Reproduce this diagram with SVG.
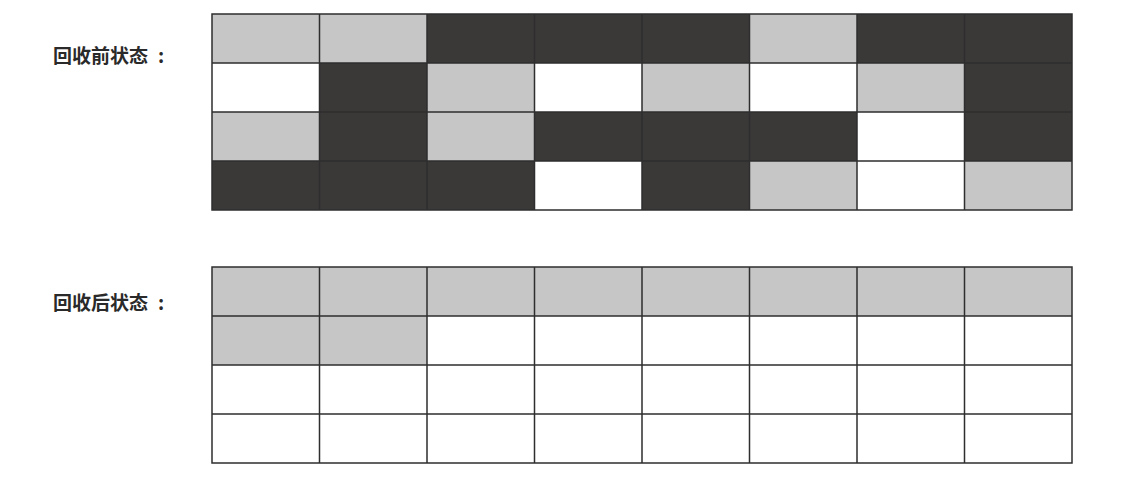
<svg xmlns="http://www.w3.org/2000/svg" width="1128" height="490" viewBox="0 0 1128 490">
<style>
.bg{fill:#ffffff}
.L{fill:#c6c6c6}
.D{fill:#3b3938}
.W{fill:#ffffff}
.grid{fill:none;stroke:#2e2e2e;stroke-width:1.5}
.lbl{font-family:"Noto Sans CJK SC","Noto Sans CJK JP",sans-serif;font-size:19px;font-weight:bold;fill:#2a2a2a}
</style>
<rect class="bg" x="0" y="0" width="1128" height="490"/>
<g id="label-before"><text class="lbl" x="53" y="63">回收前状态<tspan x="158">:</tspan></text></g>
<g id="label-after"><text class="lbl" x="53" y="310">回收后状态<tspan x="158">:</tspan></text></g>
<g id="grid-before">
<!-- row 0 -->
<rect class="L" x="212" y="14" width="107.5" height="49"/>
<rect class="L" x="319.5" y="14" width="107.5" height="49"/>
<rect class="D" x="427" y="14" width="107.5" height="49"/>
<rect class="D" x="534.5" y="14" width="107.5" height="49"/>
<rect class="D" x="642" y="14" width="107.5" height="49"/>
<rect class="L" x="749.5" y="14" width="107.5" height="49"/>
<rect class="D" x="857" y="14" width="107.5" height="49"/>
<rect class="D" x="964.5" y="14" width="107.5" height="49"/>
<!-- row 1 -->
<rect class="W" x="212" y="63" width="107.5" height="49"/>
<rect class="D" x="319.5" y="63" width="107.5" height="49"/>
<rect class="L" x="427" y="63" width="107.5" height="49"/>
<rect class="W" x="534.5" y="63" width="107.5" height="49"/>
<rect class="L" x="642" y="63" width="107.5" height="49"/>
<rect class="W" x="749.5" y="63" width="107.5" height="49"/>
<rect class="L" x="857" y="63" width="107.5" height="49"/>
<rect class="D" x="964.5" y="63" width="107.5" height="49"/>
<!-- row 2 -->
<rect class="L" x="212" y="112" width="107.5" height="49"/>
<rect class="D" x="319.5" y="112" width="107.5" height="49"/>
<rect class="L" x="427" y="112" width="107.5" height="49"/>
<rect class="D" x="534.5" y="112" width="107.5" height="49"/>
<rect class="D" x="642" y="112" width="107.5" height="49"/>
<rect class="D" x="749.5" y="112" width="107.5" height="49"/>
<rect class="W" x="857" y="112" width="107.5" height="49"/>
<rect class="D" x="964.5" y="112" width="107.5" height="49"/>
<!-- row 3 -->
<rect class="D" x="212" y="161" width="107.5" height="49"/>
<rect class="D" x="319.5" y="161" width="107.5" height="49"/>
<rect class="D" x="427" y="161" width="107.5" height="49"/>
<rect class="W" x="534.5" y="161" width="107.5" height="49"/>
<rect class="D" x="642" y="161" width="107.5" height="49"/>
<rect class="L" x="749.5" y="161" width="107.5" height="49"/>
<rect class="W" x="857" y="161" width="107.5" height="49"/>
<rect class="L" x="964.5" y="161" width="107.5" height="49"/>
<path class="grid" d="M212 14H1072V210H212Z M212 63H1072 M212 112H1072 M212 161H1072 M319.5 14V210 M427 14V210 M534.5 14V210 M642 14V210 M749.5 14V210 M857 14V210 M964.5 14V210"/>
</g>
<g id="grid-after">
<rect class="L" x="212" y="267" width="860" height="49"/>
<rect class="L" x="212" y="316" width="215" height="49"/>
<path class="grid" d="M212 267H1072V463H212Z M212 316H1072 M212 365H1072 M212 414H1072 M319.5 267V463 M427 267V463 M534.5 267V463 M642 267V463 M749.5 267V463 M857 267V463 M964.5 267V463"/>
</g>
<g id="connectors"/>
</svg>
